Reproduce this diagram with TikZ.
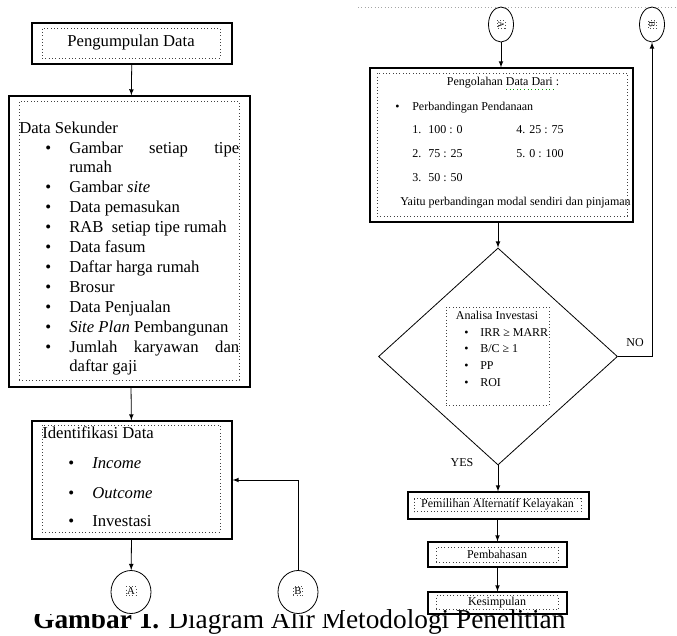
\documentclass[tikz,border=0pt]{standalone}
\usepackage{fontspec}
\setmainfont{Liberation Serif}
\usetikzlibrary{arrows,shapes.geometric}
\tikzset{
  kotak/.style={draw, line width=0.9pt, inner sep=0pt},
  dalam/.style={draw=black!75, dotted, line width=0.5pt, inner sep=0pt},
  teks/.style={inner sep=0pt, anchor=west, text height=1.5ex, text depth=.25ex},
  panah/.style={->, >=latex, line width=0.6pt},
  lingkar/.style={draw, ellipse, line width=0.6pt, inner sep=0pt},
  huruf/.style={draw=black!70, dotted, line width=0.4pt, inner sep=0.8pt}
}
\newcommand{\besar}{\fontsize{12.5}{15}\selectfont}
\newcommand{\kecil}{\fontsize{9}{11}\selectfont}

\begin{document}
\begin{tikzpicture}[x=0.75pt,y=-0.75pt]
  \useasboundingbox (0,0) rectangle (677,635);

  %# JUDUL GAMBAR
  \node[inner sep=0pt, anchor=base west, font=\fontsize{20.5}{24}\selectfont] (judul) at (33,628) {\textbf{Gambar 1.} Diagram Alir Metodologi Penelitian};
  \fill[white] (0,590) rectangle (341,614);

  %# KOLOM KIRI
  \node[kotak, minimum width=150pt, minimum height=30.75pt] (kumpul) at (132,43.5) {};
  \node[dalam, minimum width=133.5pt, minimum height=22.5pt, font=\besar] (kumpulIn) at (131,43) {Pengumpulan Data};

  \node[kotak, minimum width=180.75pt, minimum height=218.25pt] (sekunder) at (129.5,241.5) {};
  \node[dalam, minimum width=165pt, minimum height=209.25pt] (sekunderIn) at (129,240.5) {};
  \node[teks, font=\besar] (sekJudul) at (19,130) {Data Sekunder};
  \foreach \y [count=\i] in {150,189,209,229,249,269,289,309,329,349}
    \node[teks, font=\besar] (sekBul\i) at (45,\y) {\textbullet};
  \foreach \y/\isi [count=\i] in {150/{\makebox[127.5pt][s]{Gambar setiap tipe}}, 169/rumah,
      189/{Gambar \textit{site}}, 209/{Data pemasukan}, 229/{RAB\ \ setiap tipe rumah},
      249/{Data fasum}, 269/{Daftar harga rumah}, 289/Brosur, 309/{Data Penjualan},
      329/{\textit{Site Plan} Pembangunan}, 349/{\makebox[127.5pt][s]{Jumlah karyawan dan}},
      368/{daftar gaji}}
    \node[teks, font=\besar] (sekIsi\i) at (69,\y) {\isi};

  \node[kotak, minimum width=150pt, minimum height=88.5pt] (identifikasi) at (132,480) {};
  \node[dalam, minimum width=133.5pt, minimum height=80.25pt] (identifikasiIn) at (131,478.5) {};
  \node[teks, font=\besar] (idJudul) at (42,435) {Identifikasi Data};
  \foreach \y/\isi [count=\i] in {465/\textit{Income}, 495/\textit{Outcome}, 523/Investasi}{
    \node[teks, font=\besar] (idBul\i) at (68,\y) {\textbullet};
    \node[teks, font=\besar] (idIsi\i) at (92,\y) {\isi};
  }

  \node[lingkar, minimum width=30pt, minimum height=32.25pt] (Abawah) at (131,592) {};
  \node[huruf, font=\fontsize{8}{9}\selectfont] (AbawahIn) at (131,591) {A};
  \node[lingkar, minimum width=30pt, minimum height=32.25pt] (Bbawah) at (298,592) {};
  \node[huruf, font=\fontsize{8}{9}\selectfont] (BbawahIn) at (298,591) {B};

  \draw[panah] (kumpul) -- (sekunder);
  \draw[panah] (sekunder) -- (identifikasi);
  \draw[panah] (identifikasi) -- (Abawah);
  \draw[panah] (Bbawah.north) |- (identifikasi.east);

  %# KOLOM KANAN
  \draw[gray!70, dotted, line width=0.5pt] (358,7) -- (677,7);
  \node[lingkar, minimum width=18.75pt, minimum height=26.25pt] (Aatas) at (501,24.5) {};
  \node[huruf, rotate=-90, font=\fontsize{6.5}{7}\selectfont] (AatasIn) at (501,24.5) {A};
  \node[lingkar, minimum width=18.75pt, minimum height=26.25pt] (Batas) at (652,24.5) {};
  \node[huruf, rotate=-90, font=\fontsize{6.5}{7}\selectfont] (BatasIn) at (652,24.5) {B};

  \node[kotak, minimum width=197.25pt, minimum height=115.5pt] (olah) at (501.5,145) {};
  \node[dalam, minimum width=187.5pt, minimum height=107.25pt] (olahIn) at (502,144.5) {};
  \node[teks, anchor=center, font=\kecil] (olahJudul) at (503,82) {Pengolahan Data Dari :};
  \draw[green!60!black, dotted, line width=0.7pt] (506,89) -- (553,89);
  \node[teks, font=\kecil] (olahBul) at (395,107) {\textbullet};
  \node[teks, font=\kecil] (olahSub) at (412,107) {Perbandingan Pendanaan};
  \foreach \y/\no/\isi [count=\i] in {130/1./{100 : 0}, 154/2./{75 : 25}, 178/3./{50 : 50}}{
    \node[teks, font=\kecil] (rasioNo\i) at (412,\y) {\no};
    \node[teks, font=\kecil] (rasio\i) at (428,\y) {\isi};
  }
  \node[teks, font=\kecil] (rasio4) at (516,130) {4. 25 : 75};
  \node[teks, font=\kecil] (rasio5) at (516,154) {5. 0 : 100};
  \node[teks, font=\kecil] (olahKet) at (400,202) {Yaitu perbandingan modal sendiri dan pinjaman};

  \node[draw, diamond, line width=0.6pt, inner sep=0pt, minimum width=179.25pt, minimum height=162.75pt] (analisa) at (498,356.5) {};
  \node[dalam, minimum width=77.25pt, minimum height=73.5pt] (analisaIn) at (497.5,356) {};
  \node[teks, anchor=center, font=\kecil] (anJudul) at (497,316) {Analisa Investasi};
  \foreach \y/\isi [count=\i] in {333/{IRR ≥ MARR}, 349/{B/C ≥ 1}, 366/PP, 383/ROI}{
    \node[teks, font=\kecil] (anBul\i) at (464,\y) {\textbullet};
    \node[teks, font=\kecil] (anIsi\i) at (480,\y) {\isi};
  }
  \node[font=\kecil, inner sep=0pt] (no) at (635,343) {NO};
  \node[font=\kecil, inner sep=0pt] (yes) at (462,463) {YES};

  \node[kotak, minimum width=135.75pt, minimum height=20.25pt] (pilih) at (498.5,505.5) {};
  \node[dalam, minimum width=125.25pt, minimum height=9.75pt, font=\kecil] (pilihIn) at (497.5,505) {Pemilihan Alternatif Kelayakan};
  \node[kotak, minimum width=104.25pt, minimum height=18.75pt] (bahas) at (497.5,554.5) {};
  \node[dalam, minimum width=91.5pt, minimum height=11.25pt, font=\kecil] (bahasIn) at (497,554.5) {Pembahasan};
  \node[kotak, minimum width=104.25pt, minimum height=16.5pt] (simpul) at (497.5,603) {};
  \node[dalam, minimum width=91.5pt, minimum height=10.5pt, font=\kecil] (simpulIn) at (497,602.5) {Kesimpulan};

  \draw[panah] (Aatas.south) -- (Aatas.south |- olah.north);
  \draw[panah] (olah.south -| analisa.north) -- (analisa.north);
  \draw[panah] (analisa.east) -| (Batas.south);
  \draw[panah] (analisa.south) -- (analisa.south |- pilih.north);
  \draw[panah] (pilih.south -| bahas.north) -- (bahas.north);
  \draw[panah] (bahas) -- (simpul);
\end{tikzpicture}
\end{document}
